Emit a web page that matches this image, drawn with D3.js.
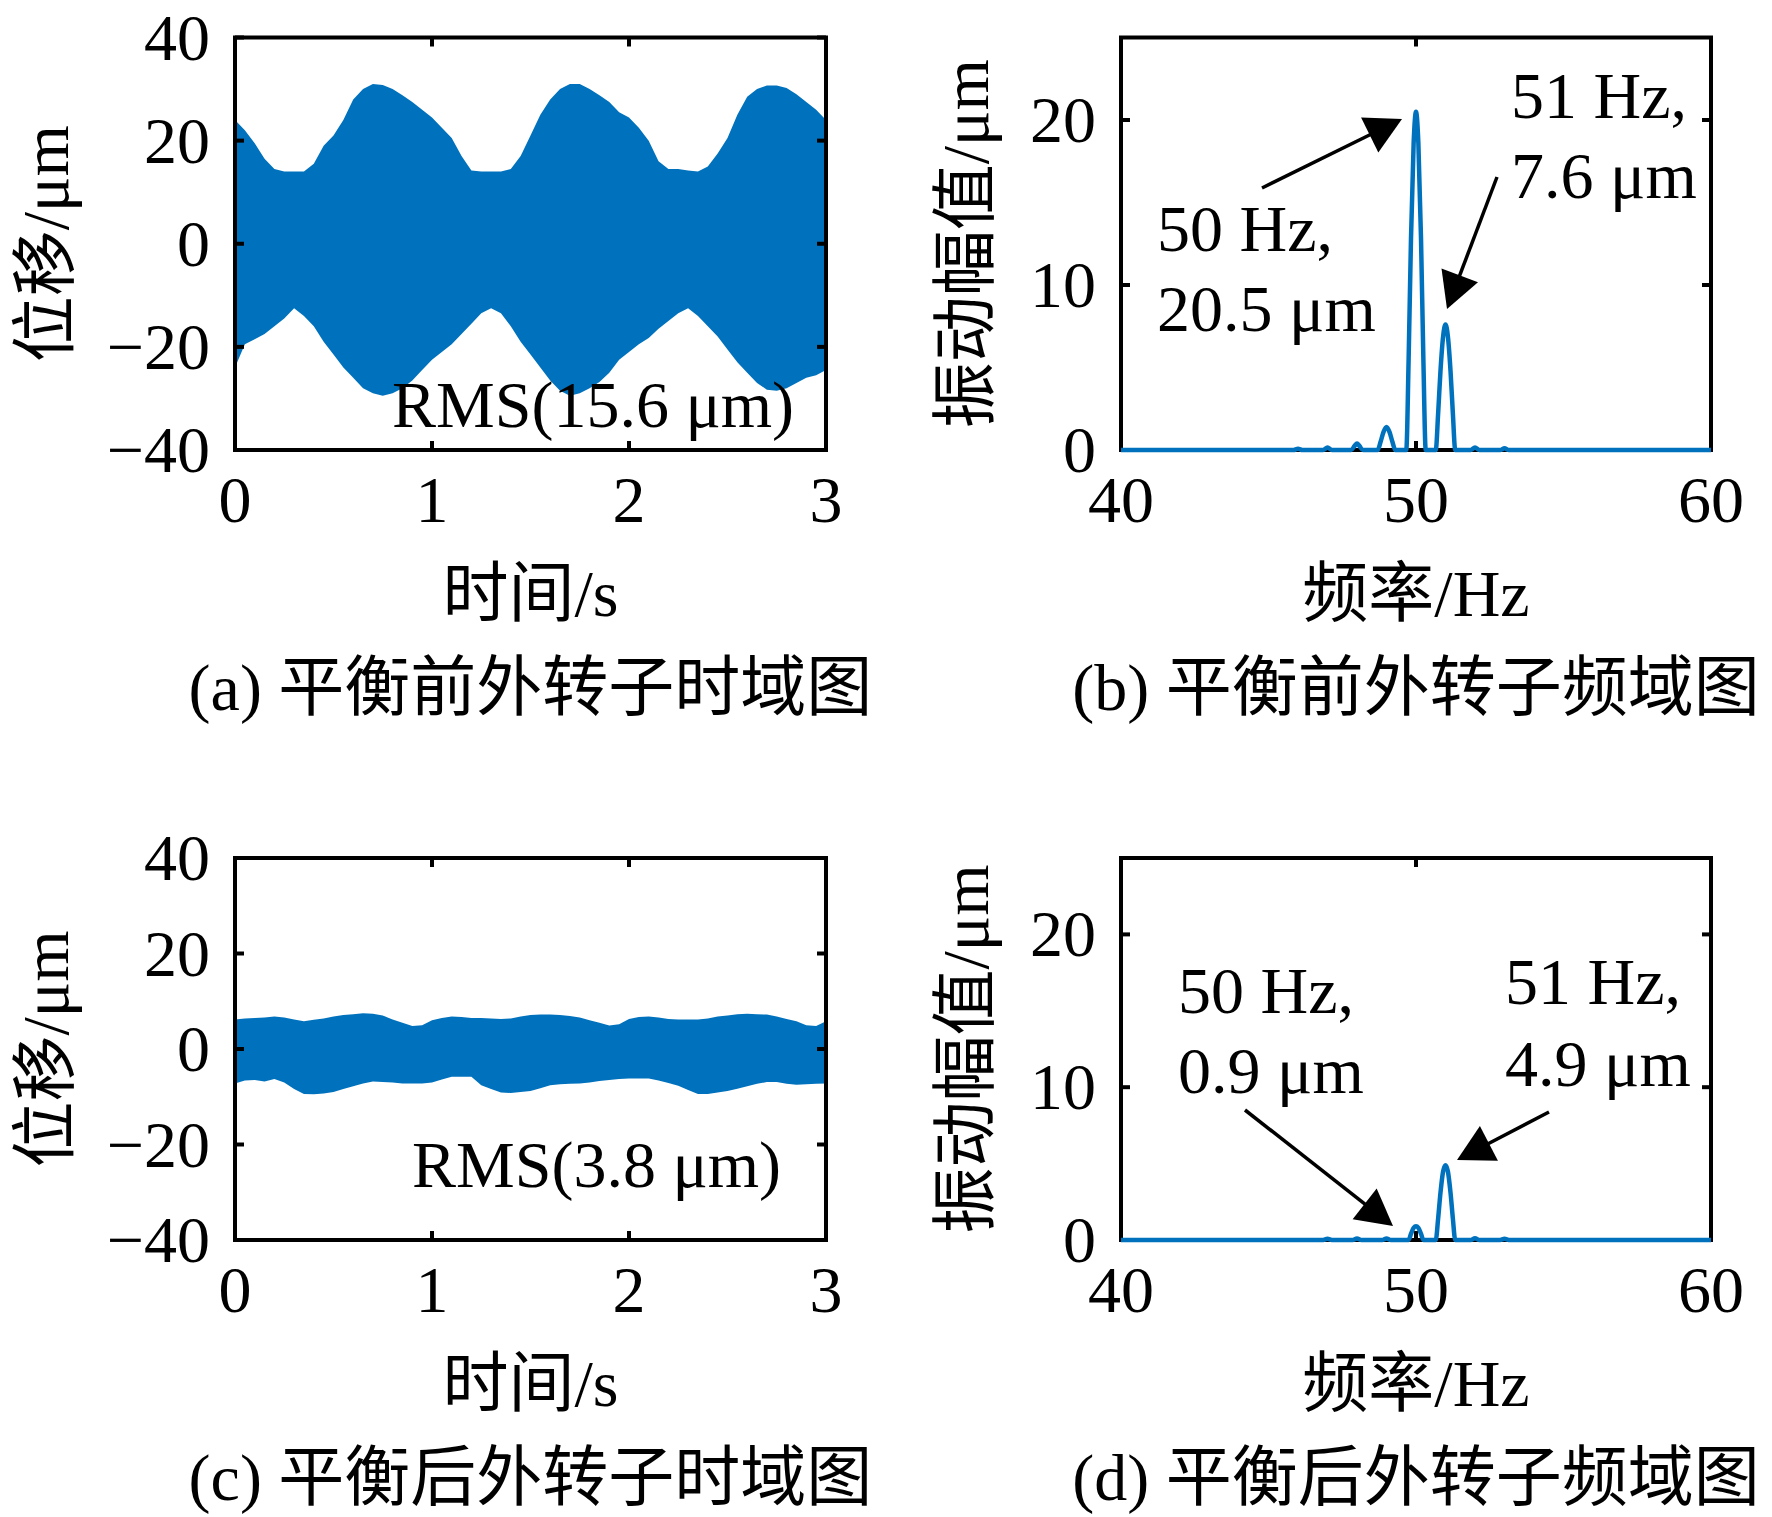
<!DOCTYPE html>
<html>
<head>
<meta charset="utf-8">
<script src="https://cdn.jsdelivr.net/npm/d3@7"></script>
<style>
html,body{margin:0;padding:0;background:#fff;}
svg{display:block;}
text{font-family:"Liberation Serif","Times New Roman","Noto Sans CJK SC",serif;fill:#000;}
</style>
</head>
<body>
<script>
// ---------------- DATA ----------------
// time axis samples (s) for the envelope of the time-domain signals
const timeSamples = [0,0.05,0.1,0.15,0.2,0.25,0.3,0.35,0.4,0.45,0.5,0.55,0.6,0.65,0.7,0.75,0.8,0.85,0.9,0.95,
  1,1.05,1.1,1.15,1.2,1.25,1.3,1.35,1.4,1.45,1.5,1.55,1.6,1.65,1.7,1.75,1.8,1.85,1.9,1.95,
  2,2.05,2.1,2.15,2.2,2.25,2.3,2.35,2.4,2.45,2.5,2.55,2.6,2.65,2.7,2.75,2.8,2.85,2.9,2.95,3];

// (a) before balancing: upper / lower envelope of displacement (µm)
const upperA = [24,22,19.5,16.5,14.5,14,14,14,15.5,19,21,24,28,30,31,30.8,30,28.8,27.5,26,
  24.5,22.5,20.5,17,14.2,14,14,14,14.5,17,21,25,28,30,31,31,30,28.8,27.5,25.5,
  24.5,22.5,20,16,14.5,14.5,14.2,14,15,17.5,20.5,25,28.5,30,30.7,30.7,30.2,29,27.5,26,24];
const lowerA = [-24,-19.5,-18.5,-17.5,-16,-14.5,-12.5,-14,-16,-19,-21.5,-24,-26,-28,-29,-29.5,-29,-28,-26.5,-24.5,
  -22.5,-21,-19.5,-17.5,-15.5,-13.5,-12.5,-13.5,-16,-19,-21.5,-24,-26.5,-28.5,-29.5,-29,-28,-26.8,-25,-22.5,
  -21,-19.5,-18.3,-16.5,-15,-13.5,-12.5,-14,-16,-18,-20.5,-23,-25,-27,-28.3,-28.5,-28,-27,-26,-25.5,-24.5];

// (c) after balancing
const upperC = [6.2,6.4,6.5,6.6,6.8,6.6,6.2,5.8,6.1,6.4,6.8,7.1,7.3,7.5,7.4,7.0,6.2,5.5,4.8,5.0,
  6.0,6.5,6.8,6.7,6.5,6.5,6.4,6.3,6.4,6.8,7.1,7.2,7.2,7.1,6.9,6.6,6.0,5.5,4.9,5.2,
  6.3,6.7,6.8,6.6,6.3,6.2,6.2,6.2,6.4,6.8,7.0,7.3,7.4,7.3,7.2,6.8,6.3,5.8,5.0,4.8,5.8];
const lowerC = [-7.2,-6.6,-6.5,-6.8,-6.3,-7.0,-8.4,-9.4,-9.5,-9.3,-9.0,-8.4,-7.8,-7.2,-6.8,-6.9,-7.0,-7.2,-7.2,-7.2,
  -7.0,-6.4,-5.8,-5.8,-5.8,-7.6,-8.4,-9.1,-9.2,-9.0,-8.8,-8.2,-7.6,-7.4,-7.3,-7.2,-7.0,-6.7,-6.5,-6.3,
  -6.2,-6.2,-6.2,-6.6,-7.1,-7.7,-8.6,-9.4,-9.4,-9.1,-8.8,-8.3,-7.8,-7.3,-6.9,-6.9,-7.3,-7.5,-7.4,-7.3,-7.2];

// (b) spectrum before balancing
const freqB = [40,45.85,46,46.15,46.85,47,47.15,47.8,47.92,48,48.08,48.2,48.7,48.8,48.9,49,49.1,49.2,49.3,
  49.67,49.75,49.83,49.92,50,50.08,50.17,50.25,50.33,
  50.67,50.75,50.83,50.92,51,51.08,51.17,51.25,51.33,
  51.85,52,52.15,52.85,53,53.15,60];
const ampB = [0,0,0.08,0,0,0.15,0,0,0.25,0.4,0.25,0,0,0.5,1.1,1.4,1.1,0.5,0,
  0,5.5,12.8,18.6,20.5,18.6,12.8,5.5,0,
  0,2.2,4.8,6.9,7.6,6.9,4.8,2.2,0,
  0,0.15,0,0,0.1,0,0];

// (d) spectrum after balancing
const freqD = [40,46.85,47,47.15,47.85,48,48.15,48.85,49,49.15,
  49.75,49.83,49.92,50,50.08,50.17,50.25,
  50.67,50.75,50.83,50.92,51,51.08,51.17,51.25,51.33,
  51.85,52,52.15,52.85,53,53.15,60];
const ampD = [0,0,0.08,0,0,0.1,0,0,0.1,0,
  0,0.4,0.8,0.9,0.8,0.4,0,
  0,1.4,3.1,4.5,4.9,4.5,3.1,1.4,0,
  0,0.12,0,0,0.08,0,0];

// tick labels
const timeTicks = [0,1,2,3];
const dispTicks = [-40,-20,0,20,40];
const freqTicks = [40,50,60];
const ampTicks = [0,10,20];

// texts
const dispLabel = "位移/μm";
const timeLabel = "时间/s";
const ampLabel = "振动幅值/μm";
const freqLabel = "频率/Hz";
const captions = ["(a) 平衡前外转子时域图","(b) 平衡前外转子频域图","(c) 平衡后外转子时域图","(d) 平衡后外转子频域图"];
const rmsTexts = ["RMS(15.6 μm)","RMS(3.8 μm)"];
const annB = [["50 Hz,","20.5 μm"],["51 Hz,","7.6 μm"]];
const annD = [["50 Hz,","0.9 μm"],["51 Hz,","4.9 μm"]];

// ---------------- DRAWING ----------------
const W = 1772, H = 1517;
const BLUE = "#0072BD";
const FS = 66;
const svg = d3.select("body").append("svg").attr("width", W).attr("height", H);
svg.append("rect").attr("width", W).attr("height", H).attr("fill", "#fff");

const fmt = v => v < 0 ? "\u2212" + Math.abs(v) : String(v);

function panel(x0, x1, y0, y1, xDom, yDom, xT, yT) {
  const x = d3.scaleLinear().domain(xDom).range([x0, x1]);
  const y = d3.scaleLinear().domain(yDom).range([y1, y0]);
  return {x, y, x0, x1, y0, y1, xT, yT};
}

function drawFrame(p) {
  const g = svg.append("g");
  const tl = 9;
  const tk = g.append("g").attr("stroke", "#000").attr("stroke-width", 4);
  p.xT.forEach(v => {
    const xx = p.x(v);
    tk.append("line").attr("x1", xx).attr("x2", xx).attr("y1", p.y1).attr("y2", p.y1 - tl);
    tk.append("line").attr("x1", xx).attr("x2", xx).attr("y1", p.y0).attr("y2", p.y0 + tl);
  });
  p.yT.forEach(v => {
    const yy = p.y(v);
    tk.append("line").attr("x1", p.x0).attr("x2", p.x0 + tl).attr("y1", yy).attr("y2", yy);
    tk.append("line").attr("x1", p.x1).attr("x2", p.x1 - tl).attr("y1", yy).attr("y2", yy);
  });
  g.append("rect").attr("x", p.x0).attr("y", p.y0).attr("width", p.x1 - p.x0).attr("height", p.y1 - p.y0)
    .attr("fill", "none").attr("stroke", "#000").attr("stroke-width", 4);
  p.xT.forEach(v => {
    g.append("text").attr("x", p.x(v)).attr("y", p.y1 + 72).attr("text-anchor", "middle")
      .attr("font-size", FS).text(fmt(v));
  });
  p.yT.forEach(v => {
    g.append("text").attr("x", p.x0 - 25).attr("y", p.y(v) + 22).attr("text-anchor", "end")
      .attr("font-size", FS).text(fmt(v));
  });
}

function labels(p, xl, yl, ylx, cap) {
  svg.append("text").attr("x", (p.x0 + p.x1) / 2).attr("y", p.y1 + 166).attr("text-anchor", "middle")
    .attr("font-size", FS).text(xl);
  const cy = (p.y0 + p.y1) / 2;
  svg.append("text").attr("transform", `translate(${ylx},${cy}) rotate(-90)`).attr("text-anchor", "middle")
    .attr("font-size", FS).text(yl);
  svg.append("text").attr("x", (p.x0 + p.x1) / 2).attr("y", p.y1 + 260).attr("text-anchor", "middle")
    .attr("font-size", FS).text(cap);
}

function timePanel(p, up, lo, rms, rx, ry, id) {
  svg.append("clipPath").attr("id", id).append("rect")
    .attr("x", p.x0).attr("y", p.y0).attr("width", p.x1 - p.x0).attr("height", p.y1 - p.y0);
  const data = timeSamples.map((t, i) => ({t, u: up[i], l: lo[i]}));
  const area = d3.area().x(d => p.x(d.t)).y0(d => p.y(d.l)).y1(d => p.y(d.u)).curve(d3.curveLinear);
  svg.append("path").datum(data).attr("d", area).attr("fill", BLUE).attr("clip-path", `url(#${id})`);
  drawFrame(p);
  svg.append("text").attr("x", rx).attr("y", ry).attr("font-size", FS).text(rms);
}

function specPanel(p, f, a) {
  drawFrame(p);
  const data = f.map((v, i) => ({f: v, a: a[i]}));
  const line = d3.line().x(d => p.x(d.f)).y(d => p.y(d.a)).curve(d3.curveMonotoneX);
  svg.append("path").datum(data).attr("d", line).attr("fill", "none").attr("stroke", BLUE)
    .attr("stroke-width", 4.5).attr("stroke-linejoin", "round");
}

function arrow(x1, y1, x2, y2) {
  const L = 36, hw = 19.5;
  const dx = x2 - x1, dy = y2 - y1, len = Math.hypot(dx, dy);
  const ux = dx / len, uy = dy / len, nx = -uy, ny = ux;
  const bx = x2 - ux * L, by = y2 - uy * L;
  svg.append("line").attr("x1", x1).attr("y1", y1).attr("x2", bx + ux * 2).attr("y2", by + uy * 2)
    .attr("stroke", "#000").attr("stroke-width", 3.5);
  svg.append("path").attr("d", `M${x2},${y2}L${bx + nx * hw},${by + ny * hw}L${bx - nx * hw},${by - ny * hw}Z`)
    .attr("fill", "#000");
}

function ann(lines, x, y1, y2) {
  svg.append("text").attr("x", x).attr("y", y1).attr("font-size", FS).text(lines[0]);
  svg.append("text").attr("x", x).attr("y", y2).attr("font-size", FS).text(lines[1]);
}

const pA = panel(235, 826, 37.5, 450, [0, 3], [-40, 40], timeTicks, dispTicks);
const pB = panel(1121, 1711, 37.5, 450, [40, 60], [0, 25], freqTicks, ampTicks);
const pC = panel(235, 826, 858, 1240, [0, 3], [-40, 40], timeTicks, dispTicks);
const pD = panel(1121, 1711, 858, 1240, [40, 60], [0, 25], freqTicks, ampTicks);

timePanel(pA, upperA, lowerA, rmsTexts[0], 392, 427, "clipA");
timePanel(pC, upperC, lowerC, rmsTexts[1], 412, 1187, "clipC");
specPanel(pB, freqB, ampB);
specPanel(pD, freqD, ampD);

labels(pA, timeLabel, dispLabel, 68, captions[0]);
labels(pB, freqLabel, ampLabel, 988, captions[1]);
labels(pC, timeLabel, dispLabel, 68, captions[2]);
labels(pD, freqLabel, ampLabel, 988, captions[3]);

ann(annB[0], 1157, 251, 331);
ann(annB[1], 1511, 118, 198);
arrow(1262, 188, 1402, 119);
arrow(1497, 177, 1447, 309);
ann(annD[0], 1178, 1013, 1093);
ann(annD[1], 1505, 1004, 1086);
arrow(1245, 1110, 1393, 1226);
arrow(1549, 1112, 1457, 1160);
</script>
</body>
</html>
